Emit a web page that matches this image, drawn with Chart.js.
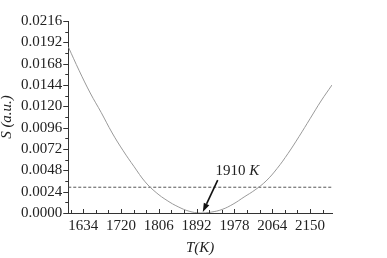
<!DOCTYPE html>
<html>
<head>
<meta charset="utf-8">
<script src="https://cdn.jsdelivr.net/npm/chart.js@4.4.1/dist/chart.umd.min.js"></script>
<style>
  html, body { margin: 0; padding: 0; background: #fff; }
  #wrap { width: 387px; height: 258px; }
</style>
</head>
<body>
<div id="wrap"><canvas id="chartS"></canvas></div>
<script>
// Data: T (K) vs S (a.u.)
const tempK = [1600, 1625, 1650, 1675, 1700, 1725, 1750, 1775, 1800, 1825, 1850, 1875, 1900,
               1925, 1950, 1975, 2000, 2025, 2050, 2075, 2100, 2125, 2150, 2175, 2200];
const sValues = [0.0187, 0.0160, 0.0135, 0.0113, 0.0090, 0.0070, 0.0052, 0.0035, 0.0023, 0.0014,
                 0.0007, 0.0002, 0.0000, 0.0001, 0.0004, 0.0010, 0.0018, 0.0026, 0.0036, 0.0050,
                 0.0067, 0.0086, 0.0106, 0.0126, 0.0144];
const thresholdS = 0.0029;
const xTicks = [1634, 1720, 1806, 1892, 1978, 2064, 2150];
const yTicks = [0.0000, 0.0024, 0.0048, 0.0072, 0.0096, 0.0120, 0.0144, 0.0168, 0.0192, 0.0216];
const xRange = [1600, 2200];
const minLabel = { text: '1910', unit: 'K', at: [1935, 0.0047], tail: [1940, 0.0037], tip: [1906, 0.0001] };

const serif = '"Liberation Serif", "Times New Roman", serif';

// Tick marks drawn by hand so majors/minors can differ
const tickMarks = {
    id: 'tickMarks',
    afterDraw(chart) {
        const { ctx, chartArea, scales: { x, y } } = chart;
        ctx.save();
        ctx.strokeStyle = '#333';
        ctx.lineWidth = 1;
        ctx.beginPath();
        // y: major outward (left), one minor between
        yTicks.forEach((v, i) => {
            const py = Math.round(y.getPixelForValue(v)) + 0.5;
            ctx.moveTo(chartArea.left - 5, py);
            ctx.lineTo(chartArea.left, py);
            if (i < yTicks.length - 1) {
                const my = Math.round(y.getPixelForValue(v + 0.0012)) + 0.5;
                ctx.moveTo(chartArea.left - 3, my);
                ctx.lineTo(chartArea.left, my);
            }
        });
        // x: ticks inward (up), two minors between majors
        const step = 86 / 3;
        for (let v = xTicks[0] - step; v <= xRange[1]; v += step) {
            if (v < xRange[0]) continue;
            const px = Math.round(x.getPixelForValue(v)) + 0.5;
            const isMajor = xTicks.some(t => Math.abs(t - v) < 0.01);
            ctx.moveTo(px, chartArea.bottom);
            ctx.lineTo(px, chartArea.bottom - (isMajor ? 4 : 3));
        }
        ctx.stroke();

        // annotation arrow + label
        const tx = x.getPixelForValue(minLabel.tail[0]), ty = y.getPixelForValue(minLabel.tail[1]);
        const hx = x.getPixelForValue(minLabel.tip[0]), hy = y.getPixelForValue(minLabel.tip[1]);
        const ang = Math.atan2(hy - ty, hx - tx);
        const headLen = 9, headW = 3;
        const bx = hx - headLen * Math.cos(ang), by = hy - headLen * Math.sin(ang);
        ctx.strokeStyle = '#111';
        ctx.fillStyle = '#111';
        ctx.lineWidth = 1.6;
        ctx.beginPath();
        ctx.moveTo(tx, ty);
        ctx.lineTo(bx, by);
        ctx.stroke();
        ctx.beginPath();
        ctx.moveTo(hx, hy);
        ctx.lineTo(bx + headW * Math.sin(ang), by - headW * Math.cos(ang));
        ctx.lineTo(bx - headW * Math.sin(ang), by + headW * Math.cos(ang));
        ctx.closePath();
        ctx.fill();

        const lx = x.getPixelForValue(minLabel.at[0]), ly = y.getPixelForValue(minLabel.at[1]);
        ctx.fillStyle = '#222';
        ctx.textBaseline = 'middle';
        ctx.font = '15px ' + serif;
        ctx.fillText(minLabel.text + ' ', lx, ly);
        const w = ctx.measureText(minLabel.text + ' ').width;
        ctx.font = 'italic 15px ' + serif;
        ctx.fillText(minLabel.unit, lx + w, ly);
        ctx.restore();
    }
};

new Chart(document.getElementById('chartS'), {
    type: 'scatter',
    data: {
        datasets: [{
            data: tempK.map((t, i) => ({ x: t, y: sValues[i] })),
            showLine: true,
            borderColor: '#9a9a9a',
            borderWidth: 1,
            pointRadius: 0,
            tension: 0.4
        }, {
            data: [{ x: xRange[0], y: thresholdS }, { x: xRange[1], y: thresholdS }],
            showLine: true,
            borderColor: '#555',
            borderWidth: 1,
            borderDash: [3, 2],
            pointRadius: 0
        }]
    },
    options: {
        responsive: true,
        maintainAspectRatio: false,
        animation: false,
        events: [],
        layout: { padding: { top: 21, right: 55, bottom: 2, left: 0 } },
        plugins: { legend: { display: false }, tooltip: { enabled: false } },
        scales: {
            x: {
                type: 'linear',
                min: xRange[0],
                max: xRange[1],
                afterBuildTicks: axis => { axis.ticks = xTicks.map(v => ({ value: v })); },
                grid: { display: false, drawTicks: false },
                border: { display: true, color: '#333', width: 1 },
                ticks: {
                    color: '#222',
                    padding: 6,
                    maxRotation: 0,
                    font: { family: serif, size: 15, lineHeight: 1 },
                    callback: v => String(v)
                },
                title: {
                    display: true,
                    text: 'T(K)',
                    color: '#222',
                    padding: { top: 1, bottom: 0 },
                    font: { family: serif, size: 15, style: 'italic', lineHeight: 1 }
                }
            },
            y: {
                min: 0,
                max: 0.0216,
                afterBuildTicks: axis => { axis.ticks = yTicks.map(v => ({ value: v })); },
                grid: { display: false, drawTicks: false },
                border: { display: true, color: '#333', width: 1 },
                ticks: {
                    color: '#222',
                    padding: 6,
                    font: { family: serif, size: 15 },
                    callback: v => v.toFixed(4)
                },
                title: {
                    display: true,
                    text: 'S (a.u.)',
                    color: '#222',
                    padding: { top: 0, bottom: 0 },
                    font: { family: serif, size: 15, style: 'italic', lineHeight: 1 }
                }
            }
        }
    },
    plugins: [tickMarks]
});
</script>
</body>
</html>
